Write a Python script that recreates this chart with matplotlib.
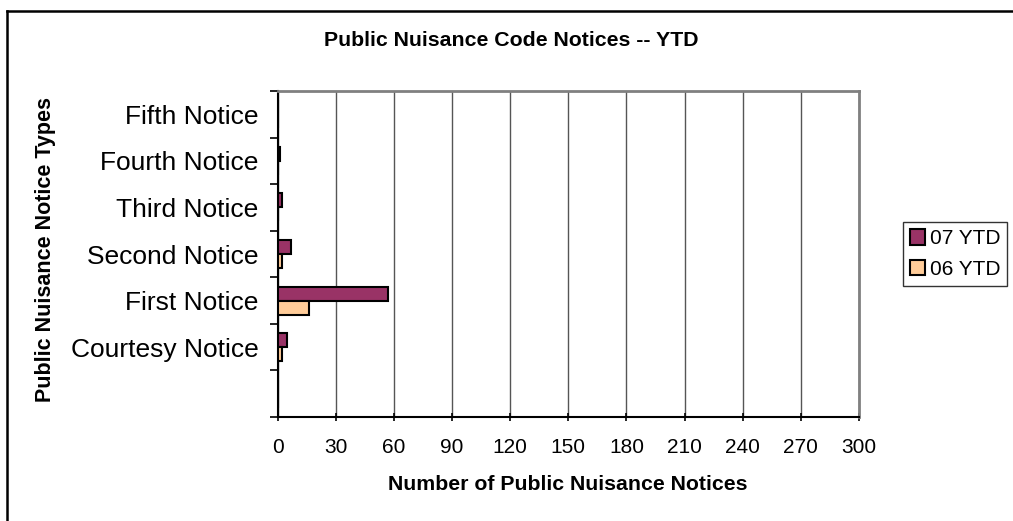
import numpy as np
import matplotlib.pyplot as plt
from matplotlib.lines import Line2D

plt.rcParams['font.family'] = ['Liberation Sans', 'DejaVu Sans']

categories = ['Fifth Notice', 'Fourth Notice', 'Third Notice', 'Second Notice',
              'First Notice', 'Courtesy Notice', '']
ytd_07 = [0, 1, 2, 7, 57, 5, 0]
ytd_06 = [0, 0, 0, 2, 16, 2, 0]
xticks = list(range(0, 301, 30))

W, H = 1013, 521
fig = plt.figure(figsize=(W / 100, H / 100), dpi=100)
ax = fig.add_axes([277.7 / W, 1 - 417 / H, (859 - 277.7) / W, (417 - 91) / H])

pos = np.arange(len(categories))
bh = 0.3
ax.barh(pos - bh / 2, ytd_07, height=bh, color='#993366', edgecolor='black',
        linewidth=1.5, label='07 YTD', zorder=3)
ax.barh(pos + bh / 2, ytd_06, height=bh, color='#FFCC99', edgecolor='black',
        linewidth=1.5, label='06 YTD', zorder=3)

ax.set_ylim(len(categories) - 0.5, -0.5)
ax.set_yticks(pos)
ax.set_yticklabels(categories, fontsize=19)
ax.tick_params(axis='y', length=0, pad=14)
ax.set_yticks(np.arange(-0.5, len(categories)), minor=True)
ax.tick_params(axis='y', which='minor', length=6, width=1.2, direction='out')

ax.set_xlim(0, 300)
ax.set_xticks(xticks)
ax.tick_params(axis='x', labelsize=15, length=6, width=1.2, direction='inout', pad=12)
ax.grid(axis='x', color='#555555', linewidth=1.0, zorder=0)

for s in ['top', 'right']:
    ax.spines[s].set_color('#808080')
    ax.spines[s].set_linewidth(2)
for s in ['left', 'bottom']:
    ax.spines[s].set_linewidth(1.5)

fig.text(568 / W, 1 - 485 / H, 'Number of Public Nuisance Notices',
         fontsize=15.3, fontweight='bold', ha='center', va='center')
fig.text(46 / W, 1 - 250 / H, 'Public Nuisance Notice Types', rotation=90,
         fontsize=15.5, fontweight='bold', ha='center', va='center')
fig.text(511.5 / W, 1 - 40 / H, 'Public Nuisance Code Notices -- YTD',
         fontsize=15.3, fontweight='bold', ha='center', va='center')

leg = fig.legend(loc='center', bbox_to_anchor=(955 / W, 1 - 254 / H), fontsize=15,
                 frameon=True, fancybox=False, edgecolor='black', handlelength=0.75,
                 handleheight=0.75, handletextpad=0.2, borderpad=0.35, labelspacing=0.55)
leg.get_frame().set_linewidth(1.0)

fig.add_artist(Line2D([7 / W, 1], [1 - 11 / H, 1 - 11 / H], transform=fig.transFigure,
                      color='black', linewidth=1.8))
fig.add_artist(Line2D([7 / W, 7 / W], [0, 1 - 11 / H], transform=fig.transFigure,
                      color='black', linewidth=1.8))

fig.savefig('out.png', dpi=100)
